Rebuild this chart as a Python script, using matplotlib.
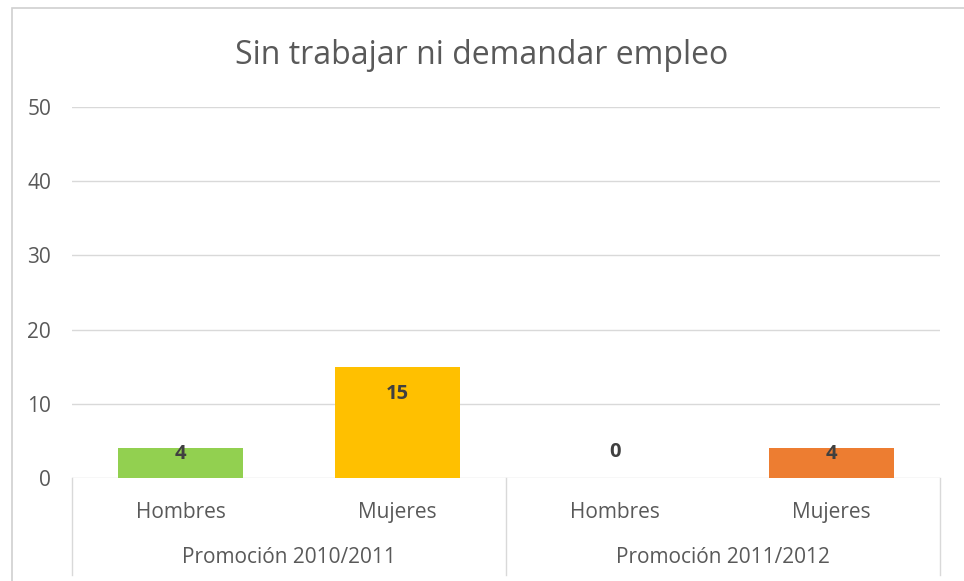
import matplotlib.pyplot as plt
from matplotlib.patches import Rectangle

# data
categories = ["Hombres", "Mujeres", "Hombres", "Mujeres"]
groups = ["Promoción 2010/2011", "Promoción 2011/2012"]
values = [4, 15, 0, 4]
bar_colors = ["#92D050", "#FFC000", "#A5A5A5", "#ED7D31"]

text_grey = "#595959"
grid_grey = "#D9D9D9"

plt.rcParams['font.family'] = ['Open Sans', 'DejaVu Sans']

fig = plt.figure(figsize=(9.64, 5.81), dpi=100)
# chart border
fig.patches.append(Rectangle((12 / 964, -0.1), 1.1, 1 - 8 / 581 + 0.1, transform=fig.transFigure,
                             fill=False, edgecolor="#D0D0D0", linewidth=1.2))

ax = fig.add_axes([72 / 964, 103 / 581, 868 / 964, 371 / 581])
x = range(len(values))
bars = ax.bar(x, values, width=0.576, color=bar_colors, zorder=3)

ax.set_xlim(-0.5, len(values) - 0.5)
ax.set_ylim(0, 50)
ax.set_yticks(range(0, 51, 10))
ax.yaxis.grid(True, color=grid_grey, linewidth=1)
ax.set_axisbelow(True)
for s in ax.spines.values():
    s.set_visible(False)
ax.tick_params(axis='y', length=0, pad=15, labelsize=15, labelcolor=text_grey)
ax.set_xticks([])

# value labels (inside end, short bars pushed up like excel does)
for i, v in enumerate(values):
    if v == 0:
        off = 26
    elif v < 8:
        off = -6
    else:
        off = -27
    ax.annotate(str(v), (i, v), xytext=(0, off), textcoords='offset pixels',
                ha='center', va='center', fontsize=14.5, fontweight='bold', color="#404040", zorder=4)

# category labels and group labels
trans = ax.get_xaxis_transform()
for i, c in enumerate(categories):
    ax.text(i, -0.092, c, transform=trans, ha='center', va='center', fontsize=15, color=text_grey)
for g, name in enumerate(groups):
    ax.text(g * 2 + 0.5, -0.213, name, transform=trans, ha='center', va='center', fontsize=15, color=text_grey)
for xs in [-0.5, 1.5, 3.5]:
    ax.plot([xs, xs], [0, -0.262], transform=trans, color=grid_grey, linewidth=1, clip_on=False)

fig.text(0.5, 1 - 55 / 581, "Sin trabajar ni demandar empleo", ha='center', va='center',
         fontsize=23, color=text_grey)

fig.savefig("out.png", dpi=100)
